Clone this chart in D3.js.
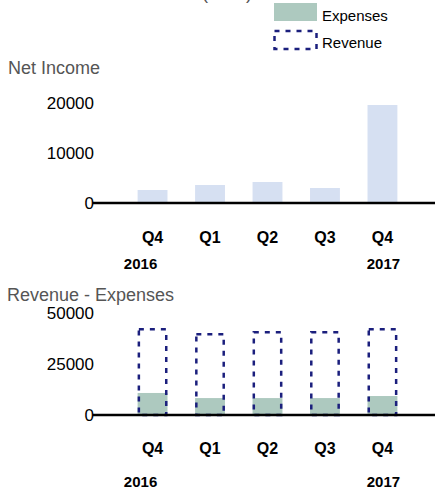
<!DOCTYPE html>
<html>
<head>
<meta charset="utf-8">
<script src="https://cdn.jsdelivr.net/npm/d3@7"></script>
<style>
  body { margin: 0; background: #fff; }
  svg { display: block; font-family: "Liberation Sans", Arial, sans-serif; }
</style>
</head>
<body>
<script>
'use strict';

// periods shown on both charts
const periods = ["2016-Q4", "2017-Q1", "2017-Q2", "2017-Q3", "2017-Q4"];
const quarterLabels = ["Q4", "Q1", "Q2", "Q3", "Q4"];
const yearLabels = [{ year: "2016", at: 0 }, { year: "2017", at: 4 }];

// values
const netIncome = [2600, 3600, 4200, 3000, 19600];
const revenue = [42600, 40200, 41200, 41200, 42600];
const expenses = [10800, 8300, 8300, 8300, 9300];

const netTicks = [0, 10000, 20000];
const revTicks = [0, 25000, 50000];

const width = 435, height = 489;

let svg = d3.select("body").append("svg")
  .attr("width", width)
  .attr("height", height);

// shared x scale for both panels
let x = d3.scaleBand()
  .domain(periods)
  .range([94.5, 440.5])
  .paddingInner(0.48)
  .paddingOuter(0.75);

// title, cut off by the top edge as in the original
svg.append("text")
  .attr("x", 252)
  .attr("y", -1)
  .attr("text-anchor", "end")
  .style("font-size", "18px")
  .style("fill", "#555")
  .text("Income Statement (USD)");

// legend
let legend = svg.append("g").attr("transform", "translate(274, 3)");
legend.append("rect")
  .attr("width", 43).attr("height", 18)
  .attr("fill", "#adc9bf");
legend.append("text")
  .attr("x", 48).attr("y", 18)
  .style("font-size", "15px")
  .text("Expenses");
legend.append("rect")
  .attr("x", 0.5).attr("y", 28)
  .attr("width", 42).attr("height", 18)
  .attr("fill", "none")
  .attr("stroke", "#1b1f7d")
  .attr("stroke-width", 2.5)
  .attr("stroke-dasharray", "5,6");
legend.append("text")
  .attr("x", 48).attr("y", 45)
  .style("font-size", "15px")
  .text("Revenue");

// draws y tick labels, baseline and the quarter / year labels
function drawAxes(y, ticks, qY, yearY) {
  svg.append("g").selectAll("text")
    .data(ticks)
    .enter()
    .append("text")
      .attr("x", 94)
      .attr("y", d => y(d))
      .attr("dy", "0.35em")
      .attr("text-anchor", "end")
      .style("font-size", "17px")
      .text(d => d);

  svg.append("line")
    .attr("x1", 93).attr("x2", width)
    .attr("y1", y(0)).attr("y2", y(0))
    .attr("stroke", "#000")
    .attr("stroke-width", 2.5);

  svg.append("g").selectAll("text")
    .data(periods)
    .enter()
    .append("text")
      .attr("x", d => x(d) + x.bandwidth() / 2)
      .attr("y", qY)
      .attr("text-anchor", "middle")
      .style("font-size", "16px")
      .style("font-weight", "bold")
      .text((d, i) => quarterLabels[i]);

  svg.append("g").selectAll("text")
    .data(yearLabels)
    .enter()
    .append("text")
      .attr("x", d => x(periods[d.at]) + x.bandwidth() / 2 + (d.at === 0 ? -12 : 1))
      .attr("y", yearY)
      .attr("text-anchor", "middle")
      .style("font-size", "15px")
      .style("font-weight", "bold")
      .text(d => d.year);
}

// ---- Net Income panel
let yNet = d3.scaleLinear().domain([0, 20000]).range([203, 103]);

svg.append("text")
  .attr("x", 8).attr("y", 74)
  .style("font-size", "18px")
  .style("fill", "#555")
  .text("Net Income");

svg.append("g").selectAll("rect")
  .data(netIncome)
  .enter()
  .append("rect")
    .attr("x", (d, i) => x(periods[i]))
    .attr("y", d => yNet(d))
    .attr("width", x.bandwidth())
    .attr("height", d => yNet(0) - yNet(d))
    .attr("fill", "#d6e0f2");

drawAxes(yNet, netTicks, 243, 269);

// ---- Revenue - Expenses panel
let yRev = d3.scaleLinear().domain([0, 50000]).range([415, 313]);

svg.append("text")
  .attr("x", 7).attr("y", 301)
  .style("font-size", "18px")
  .style("fill", "#555")
  .text("Revenue - Expenses");

svg.append("g").selectAll("rect")
  .data(expenses)
  .enter()
  .append("rect")
    .attr("x", (d, i) => x(periods[i]))
    .attr("y", d => yRev(d))
    .attr("width", x.bandwidth())
    .attr("height", d => yRev(0) - yRev(d))
    .attr("fill", "#adc9bf");

svg.append("g").selectAll("rect")
  .data(revenue)
  .enter()
  .append("rect")
    .attr("x", (d, i) => x(periods[i]) + 1.25)
    .attr("y", d => yRev(d) + 1.25)
    .attr("width", x.bandwidth() - 2.5)
    .attr("height", d => yRev(0) - yRev(d) - 1.25)
    .attr("fill", "none")
    .attr("stroke", "#1b1f7d")
    .attr("stroke-width", 2.5)
    .attr("stroke-dasharray", "5,6");

drawAxes(yRev, revTicks, 454, 487);
</script>
</body>
</html>
